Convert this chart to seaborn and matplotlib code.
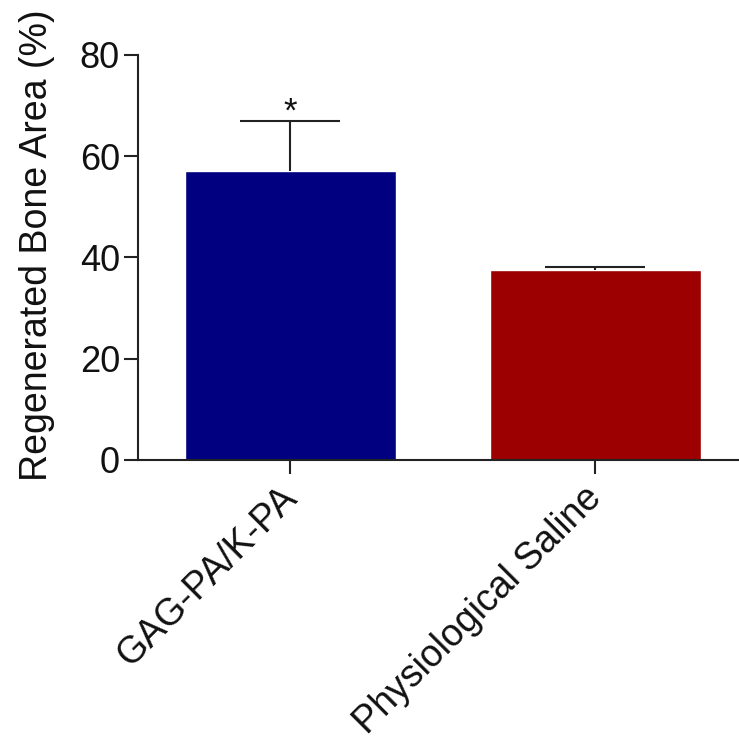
import numpy as np
import pandas as pd
import matplotlib
matplotlib.use("Agg")
import matplotlib.pyplot as plt
import matplotlib.transforms as mtransforms
import seaborn as sns

# data
groups = ["GAG-PA/K-PA", "Physiological Saline"]
bone_area = [57.0, 37.6]
sem_upper = [9.9, 0.5]
bar_colors = ["#000080", "#9c0000"]
y_ticks = [0, 20, 40, 60, 80]

sns.set_style("ticks")
plt.rcParams["font.family"] = ["Liberation Sans", "DejaVu Sans"]
plt.rcParams["text.color"] = "#111111"
plt.rcParams["axes.labelcolor"] = "#111111"
plt.rcParams["xtick.color"] = "#222222"
plt.rcParams["ytick.color"] = "#222222"
plt.rcParams["xtick.labelcolor"] = "#111111"
plt.rcParams["ytick.labelcolor"] = "#111111"

df = pd.DataFrame({"group": groups, "area": bone_area})

fig = plt.figure(figsize=(7.39, 7.45), dpi=100)
ax = fig.add_axes([0.1867, 0.3826, 610 / 739, 0.5436])

sns.barplot(data=df, x="group", y="area", hue="group", palette=bar_colors,
            saturation=1, width=0.69, errorbar=None, legend=False, ax=ax)

# upper-only error bars
yerr = np.array([np.zeros(len(sem_upper)), sem_upper])
eb = ax.errorbar(x=range(len(groups)), y=bone_area, yerr=yerr, fmt="none",
                 ecolor="#222222", elinewidth=1.5, capsize=36, capthick=1.5)
# hide the caps that sit on top of the bars
for cap in eb[1]:
    if np.allclose(cap.get_ydata(), bone_area):
        cap.set_visible(False)

# significance marker
ax.text(0, bone_area[0] + sem_upper[0], "*", ha="center", va="baseline",
        fontsize=25, color="#111111")

ax.set_xlim(-0.5, 1.5)
ax.set_ylim(0, 80)
ax.set_yticks(y_ticks)
ax.set_ylabel("Regenerated Bone Area (%)", fontsize=27)
ax.yaxis.set_label_coords(-0.136, 0.53)
ax.set_xlabel("")

sns.despine(ax=ax)
for side in ["left", "bottom"]:
    ax.spines[side].set_color("#222222")
    ax.spines[side].set_linewidth(1.5)

ax.tick_params(axis="both", direction="out", length=10, width=1.5, pad=3)
ax.tick_params(axis="y", labelsize=26)
ax.tick_params(axis="x", labelsize=27, pad=5)
shift = mtransforms.ScaledTranslation(-12 / 100, 1 / 100, fig.dpi_scale_trans)
for lab in ax.get_xticklabels():
    lab.set_rotation(45)
    lab.set_ha("right")
    lab.set_rotation_mode("anchor")
    lab.set_transform(lab.get_transform() + shift)

fig.savefig("out.png", dpi=100)
